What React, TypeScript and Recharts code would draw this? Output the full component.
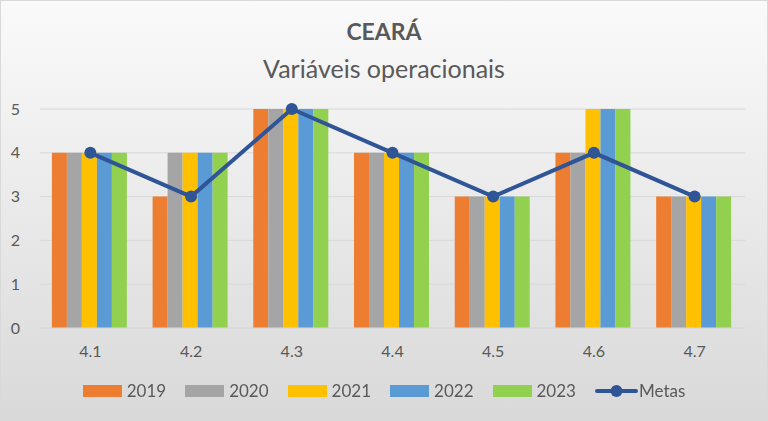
import {
  ComposedChart,
  Bar,
  Line,
  XAxis,
  YAxis,
  CartesianGrid,
  Legend,
} from "recharts";

const categories = ["4.1", "4.2", "4.3", "4.4", "4.5", "4.6", "4.7"];
const v2019 = [4, 3, 5, 4, 3, 4, 3];
const v2020 = [4, 4, 5, 4, 3, 4, 3];
const v2021 = [4, 4, 5, 4, 3, 5, 3];
const v2022 = [4, 4, 5, 4, 3, 5, 3];
const v2023 = [4, 4, 5, 4, 3, 5, 3];
const metas = [4, 3, 5, 4, 3, 4, 3];
const yTicks = [0, 1, 2, 3, 4, 5];

const data = categories.map((cat, i) => ({
  cat,
  y2019: v2019[i],
  y2020: v2020[i],
  y2021: v2021[i],
  y2022: v2022[i],
  y2023: v2023[i],
  metas: metas[i],
}));

const bars = [
  { key: "y2019", name: "2019", color: "#ED7D31" },
  { key: "y2020", name: "2020", color: "#A5A5A5" },
  { key: "y2021", name: "2021", color: "#FFC000" },
  { key: "y2022", name: "2022", color: "#5B9BD5" },
  { key: "y2023", name: "2023", color: "#92D050" },
];
const lineColor = "#2F5597";
const font = "Lato, 'Open Sans', sans-serif";

function LegendBox() {
  return (
    <div
      style={{
        display: "flex",
        justifyContent: "center",
        alignItems: "center",
        fontFamily: font,
        fontSize: 17,
        color: "#595959",
      }}
    >
      {bars.map((b) => (
        <div key={b.key} style={{ display: "flex", alignItems: "center", marginRight: 19 }}>
          <span style={{ width: 39, height: 12, background: b.color, marginRight: 5 }} />
          <span>{b.name}</span>
        </div>
      ))}
      <div style={{ display: "flex", alignItems: "center" }}>
        <svg width={43} height={14} style={{ marginRight: 1 }}>
          <line x1={2} y1={7} x2={41} y2={7} stroke={lineColor} strokeWidth={4} strokeLinecap="round" />
          <circle cx={21.5} cy={7} r={6} fill={lineColor} />
        </svg>
        <span>Metas</span>
      </div>
    </div>
  );
}

export default function App() {
  return (
    <div
      style={{
        position: "fixed",
        left: 0,
        top: 0,
        width: 766,
        height: 419,
        border: "1px solid #d9d9d9",
        background: "linear-gradient(#fafafa, #d9d9d9)",
      }}
    >
      <div
        style={{
          position: "absolute",
          top: 16,
          width: "100%",
          textAlign: "center",
          fontFamily: font,
          fontWeight: 700,
          fontSize: 23,
          color: "#595959",
        }}
      >
        CEARÁ
      </div>
      <div
        style={{
          position: "absolute",
          top: 52,
          width: "100%",
          textAlign: "center",
          fontFamily: font,
          fontSize: 25,
          color: "#595959",
        }}
      >
        Variáveis operacionais
      </div>
      <ComposedChart
        width={766}
        height={419}
        data={data}
        margin={{ top: 108, right: 22, bottom: 0, left: 0 }}
        barCategoryGap="11.8%"
        barGap={0}
      >
        <CartesianGrid vertical={false} stroke="#d9d9d9" />
        <XAxis
          dataKey="cat"
          axisLine={{ stroke: "#d9d9d9" }}
          tickLine={false}
          tick={{ fontSize: 16, fill: "#595959", fontFamily: font }}
          tickMargin={12}
          height={30}
        />
        <YAxis
          domain={[0, 5]}
          ticks={yTicks}
          axisLine={false}
          tickLine={false}
          width={39}
          tick={{ fontSize: 16, fill: "#595959", fontFamily: font }}
          tickMargin={14}
        />
        <Legend
          verticalAlign="bottom"
          height={62}
          content={() => <LegendBox />}
          wrapperStyle={{ top: 379, bottom: "auto", left: 0, width: 766 }}
        />
        {bars.map((b) => (
          <Bar key={b.key} dataKey={b.key} name={b.name} fill={b.color} isAnimationActive={false} />
        ))}
        <Line
          dataKey="metas"
          name="Metas"
          stroke={lineColor}
          strokeWidth={4}
          dot={{ r: 6, fill: lineColor, stroke: lineColor, strokeWidth: 0 }}
          isAnimationActive={false}
        />
      </ComposedChart>
    </div>
  );
}
